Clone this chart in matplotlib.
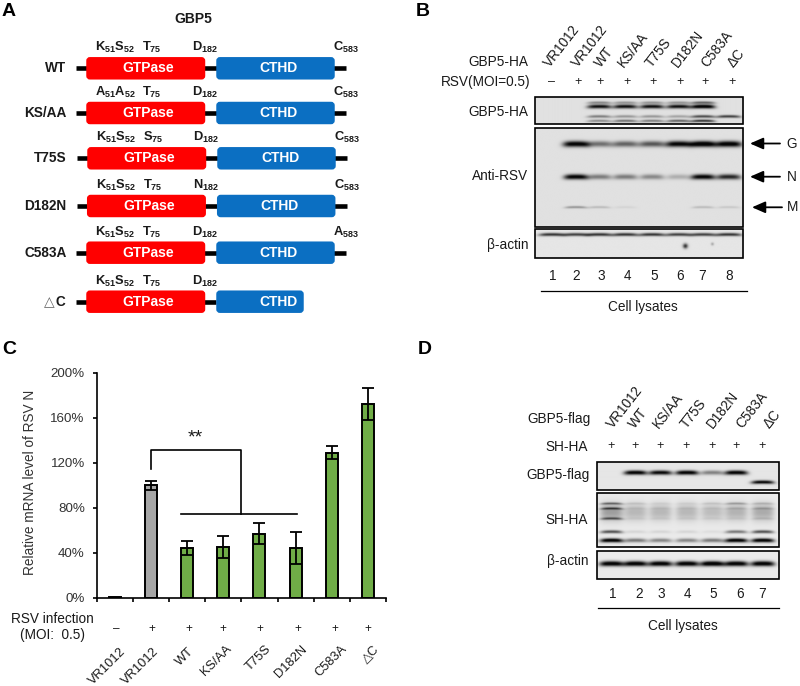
#!/usr/bin/env python
"""GBP5 mutants figure: domain maps, western blots and RSV N mRNA bars."""
import numpy as np
import matplotlib
matplotlib.use("Agg")
import matplotlib.pyplot as plt
from matplotlib.patches import FancyBboxPatch, Rectangle

plt.rcParams["font.family"] = ["Liberation Sans", "DejaVu Sans"]
plt.rcParams["mathtext.fontset"] = "custom"
plt.rcParams["mathtext.bf"] = "Liberation Sans:bold"
plt.rcParams["mathtext.rm"] = "Liberation Sans"

INK = "#1a1a1a"

# panel A
a_names = ["WT", "KS/AA", "T75S", "D182N", "C583A"]
a_rows = [68.3, 113, 158.3, 206, 252.7, 301.7]
a_shift = [0, 0, 1, 0.7, 0, 0]
a_site1 = [("K", "S"), ("A", "A"), ("K", "S"), ("K", "S"), ("K", "S"), ("K", "S")]
a_site2 = ["T", "T", "S", "T", "T", "T"]
a_site3 = ["D", "D", "D", "N", "D", "D"]
a_site4 = ["C", "C", "C", "C", "A", None]

# panel C
c_labels = ["VR1012", "VR1012", "WT", "KS/AA", "T75S", "D182N", "C583A", "△C"]
c_signs = ["–", "+", "+", "+", "+", "+", "+", "+"]
c_values = [0.5, 100, 44, 45, 57, 44, 129, 172]
c_errors = [0, 4, 6, 10, 9, 14, 6, 14]
c_colors = ["#a6a6a6", "#a6a6a6", "#70ad47", "#70ad47", "#70ad47", "#70ad47", "#70ad47", "#70ad47"]
c_ticks = [0, 40, 80, 120, 160, 200]
bracket_x = [1, 1, 3.5, 3.5]
bracket_y = [114, 131.3, 131.3, 74]
bar_span_x = [1.84, 5.04]
bar_span_y = [74, 74]

# panel B blots
b_lanes = [551.7, 575.7, 599, 625, 651.7, 678.3, 702.7, 728.3]
b_names = ["VR1012", "VR1012", "WT", "KS/AA", "T75S", "D182N", "C583A", "ΔC"]
b_signs = ["–", "+", "+", "+", "+", "+", "+", "+"]
b_ha_top = [0, 0, 0.85, 0.85, 0.85, 0.85, 1.0, 0]
b_ha_faint = [0, 0, 0.35, 0.3, 0.3, 0.3, 0.5, 0]
b_ha_low1 = [0, 0, 0.4, 0.3, 0.3, 0.25, 0.6, 0.65]
b_ha_low2 = [0, 0, 0.35, 0.45, 0.4, 0.5, 0.7, 0]
b_g = [0, 0.92, 0.45, 0.5, 0.55, 0.9, 1.0, 0.95]
b_n = [0, 0.92, 0.4, 0.4, 0.35, 0.2, 0.9, 0.75]
b_m = [0, 0.3, 0.15, 0.05, 0, 0, 0.15, 0.1]
b_actin = [0.7, 0.65, 0.7, 0.7, 0.7, 0.65, 0.65, 0.7]

# panel D blots
d_lanes = [611.7, 635.7, 660.7, 687.3, 712.7, 736.7, 763.3]
d_names = ["VR1012", "WT", "KS/AA", "T75S", "D182N", "C583A", "ΔC"]
d_flag = [0, 0.95, 0.9, 0.95, 0.4, 0.95, 0]
d_flag_low = [0, 0, 0, 0, 0, 0, 0.9]
d_sh_smear = [0.3, 0.2, 0.2, 0.2, 0.18, 0.22, 0.25]
d_sh_t1 = [0.45, 0.1, 0.05, 0.05, 0.1, 0.25, 0.15]
d_sh_t2 = [0.5, 0.05, 0.05, 0.05, 0.05, 0.1, 0.15]
d_sh_t3 = [0.5, 0.05, 0.05, 0.05, 0.05, 0.05, 0.1]
d_sh_b2 = [0.6, 0.08, 0.08, 0.08, 0.05, 0.45, 0.6]
d_sh_b3 = [1.0, 0.45, 0.4, 0.4, 0.45, 1.0, 1.0]
d_actin = [1.0, 1.0, 1.0, 1.0, 1.05, 1.0, 1.0]

fig = plt.figure(figsize=(8, 6.86), dpi=100)

# bar chart
ax = fig.add_axes([96.7 / 800, 1 - 597.7 / 686, (386 - 96.7) / 800, 225 / 686])
x = np.arange(len(c_values))
ax.bar(x, c_values, width=0.33, color=c_colors, edgecolor="black", linewidth=1.4)
ax.errorbar(x[1:], c_values[1:], yerr=c_errors[1:], fmt="none", ecolor="black",
            elinewidth=1.3, capsize=4.3, capthick=1.3)
ax.plot(bracket_x, bracket_y, color="black", lw=1.2)
ax.plot(bar_span_x, bar_span_y, color="black", lw=1.2)
ax.text(2.22, 134, "**", ha="center", va="bottom", fontsize=14, color=INK)
ax.set_xlim(-0.5, 7.5)
ax.set_ylim(0, 200)
ax.set_yticks(c_ticks)
ax.set_yticklabels([f"{v}%" for v in c_ticks], fontsize=9.6, color="#333333")
ax.set_xticks(np.arange(-0.5, 8))
ax.set_xticklabels([])
ax.tick_params(axis="y", length=2.6, width=1.2, pad=6)
ax.tick_params(axis="x", length=2.6, width=1.2, direction="out")
ax.spines[["top", "right"]].set_visible(False)
ax.spines[["left", "bottom"]].set_linewidth(1.2)
ax.set_ylabel("Relative mRNA level of RSV N", fontsize=9.8, color="#333333")
ax.yaxis.set_label_coords((37 - 96.7) / 289.3, (597.7 - 482.5) / 225)

# everything else is placed in pixel coordinates
ov = fig.add_axes([0, 0, 1, 1], zorder=5)
ov.patch.set_alpha(0)
ov.axis("off")


def label(x, y, s, size=9.8, **kw):
    kw.setdefault("ha", "center")
    kw.setdefault("va", "center")
    kw.setdefault("color", INK)
    ov.text(x, y, s, fontsize=size, **kw)


def blot(x0, x1, y0, y1, bg, rows, specks=()):
    xs, ys = np.meshgrid(np.linspace(x0, x1, int(x1 - x0) * 2), np.linspace(y0, y1, int(y1 - y0) * 2))
    img = np.zeros_like(xs)
    for lanes, y, dark, hw, hh in rows:
        for cx, d in zip(lanes, dark):
            img += d * np.exp(-(((xs - cx) / hw) ** 4) - ((ys - y - 0.4 * ((xs - cx) / hw) ** 2) / hh) ** 2)
    for sx, sy, d, r in specks:
        img += d * np.exp(-((xs - sx) ** 2 + (ys - sy) ** 2) / r ** 2)
    img = np.clip(bg - img, 0.02, 1)
    ov.imshow(img, cmap="gray", vmin=0, vmax=1, extent=(x0, x1, y1, y0), aspect="auto",
              interpolation="bilinear", zorder=1)
    ov.add_patch(Rectangle((x0, y0), x1 - x0, y1 - y0, fill=False, ec="black", lw=1.2, zorder=2))


# panel letters
for s, px, py in [("A", 9, 11), ("B", 423, 11), ("C", 9, 349), ("D", 425, 349)]:
    label(px, py, s, size=14, weight="bold", color="black")

# panel A
label(193, 19, "GBP5", size=10, weight="bold")
for i, y in enumerate(a_rows):
    dx = a_shift[i]
    end = 346 if i < 5 else 216
    ov.plot([76 + dx, end + dx], [y, y], color="black", lw=3.3, solid_capstyle="butt", zorder=1)
    blue_end = 335 if i < 5 else 304
    ov.add_patch(FancyBboxPatch((88 + dx, y - 9.5), 115.5, 19, boxstyle="round,pad=0,rounding_size=2",
                                mutation_aspect=1, fc="#ff0000", ec="#ff0000", lw=2.5, zorder=2))
    ov.add_patch(FancyBboxPatch((218 + dx, y - 9.5), blue_end - 220, 19, boxstyle="round,pad=0,rounding_size=2",
                                fc="#0b6fc2", ec="#0b6fc2", lw=2.5, zorder=2))
    label(148.5 + dx, y, "GTPase", size=10, weight="bold", color="white", zorder=3)
    label(279 + dx, y, "CTHD", size=10, weight="bold", color="white", zorder=3)
    ty = y - 20.5
    p, q = a_site1[i]
    label(95 + dx, ty, rf"$\mathbf{{{p}_{{51}}{q}_{{52}}}}$", size=9.3, ha="left")
    label(142 + dx, ty, rf"$\mathbf{{{a_site2[i]}_{{75}}}}$", size=9.3, ha="left")
    label(192 + dx, ty, rf"$\mathbf{{{a_site3[i]}_{{182}}}}$", size=9.3, ha="left")
    if a_site4[i]:
        label(333 + dx, ty, rf"$\mathbf{{{a_site4[i]}_{{583}}}}$", size=9.3, ha="left")
    if i < 5:
        label(66.5, y, a_names[i], size=9.8, weight="bold", ha="right")
label(55, 301.7, "△", size=10, color="#666666", ha="right")
label(65, 301.7, "C", size=9.8, weight="bold", ha="right")

# panel B
blot(535, 743.3, 97.3, 124.3, 0.88, [
    (b_lanes, 102.7, b_ha_faint, 12, 1.3),
    (b_lanes, 106.7, b_ha_top, 12, 2.0),
    (b_lanes, 116.8, b_ha_low1, 12, 1.4),
    (b_lanes, 121.3, b_ha_low2, 12, 1.3),
])
blot(535, 743.3, 127.7, 226.7, 0.88, [
    (b_lanes, 143.5, b_g, 13, 3.0),
    (b_lanes, 176.5, b_n, 12, 2.6),
    (b_lanes, 207, b_m, 11, 1.2),
])
blot(535, 743.3, 229.3, 257.7, 0.9, [(b_lanes, 234.5, b_actin, 13, 1.6)],
     specks=[(685, 246, 0.7, 2.5), (712, 244, 0.25, 1.5)])
for cx, s in zip([550.3, 578, 601, 623.7, 651.3, 677.7, 707, 733.7], b_names):
    label(cx, 68, s, rotation=52, ha="left", va="baseline", rotation_mode="anchor")
for cx, s in zip([551.7, 578, 600, 627, 653, 680, 705, 732], b_signs):
    label(cx, 82, s, size=9)
for cx, n in zip([553, 575.7, 601.7, 628, 654.3, 680, 702.3, 729], range(1, 9)):
    label(cx, 276, str(n))
label(528, 61.5, "GBP5-HA", ha="right")
label(530, 82, "RSV(MOI=0.5)", ha="right")
label(528, 112.5, "GBP5-HA", ha="right")
label(528, 176.5, "Anti-RSV", ha="right")
label(528, 245, "β-actin", ha="right")
for y, x0, x1, s, lx in [(143.5, 780, 750, "G", 791.5), (176.7, 780, 750, "N", 792), (207.3, 782, 752, "M", 793)]:
    ov.annotate("", xy=(x1, y), xytext=(x0, y),
                arrowprops=dict(arrowstyle="-|>,head_width=0.35,head_length=0.8", color="black", lw=1.3,
                                shrinkA=0, shrinkB=0))
    label(lx, y, s)
ov.plot([540.7, 746.7], [290.7, 290.7], color="black", lw=0.9)
label(642.7, 306.7, "Cell lysates")

# panel C text
label(52.7, 618.7, "RSV infection")
label(53, 635, "(MOI:  0.5)")
for cx, s in zip([116.7, 151.7, 189, 222.7, 260, 297.7, 335, 368.3], c_signs):
    label(cx, 629, s, size=8.5)
for cx, cy, s in zip([120, 153, 188, 226, 265, 301, 341, 373], [645, 645, 645, 643, 643, 643, 643, 643], c_labels):
    label(cx, cy, s, size=9.3, rotation=45, ha="right", va="top", rotation_mode="anchor")

# panel D
blot(597.3, 779.3, 462.3, 490, 0.9, [
    (d_lanes, 472.7, d_flag, 11.5, 2.2),
    (d_lanes, 482.3, d_flag_low, 11.5, 1.8),
])
blot(597.3, 779.3, 493.3, 546.7, 0.92, [
    (d_lanes, 512, d_sh_smear, 11.5, 8.5),
    (d_lanes, 503.5, d_sh_t1, 11, 1.1),
    (d_lanes, 508.5, d_sh_t2, 11, 1.1),
    (d_lanes, 518.5, d_sh_t3, 11, 1.2),
    (d_lanes, 531.7, d_sh_b2, 11, 1.6),
    (d_lanes, 540.3, d_sh_b3, 11.5, 2.0),
])
blot(597.3, 779.3, 550.7, 578.7, 0.92, [(d_lanes, 563.3, d_actin, 12, 2.6)])
for cx, s in zip([613, 635.3, 658.7, 686.3, 713, 742, 769.7], d_names):
    label(cx, 429, s, rotation=52, ha="left", va="baseline", rotation_mode="anchor")
for cx in d_lanes:
    label(cx - 1, 446.5, "+", size=9)
for cx, n in zip([612.7, 638.7, 661, 687.3, 713.7, 739.7, 762], range(1, 8)):
    label(cx, 594, str(n))
label(590.5, 419.5, "GBP5-flag", ha="right")
label(588, 447, "SH-HA", ha="right")
label(589.5, 474.5, "GBP5-flag", ha="right")
label(588, 519.5, "SH-HA", ha="right")
label(588, 561.5, "β-actin", ha="right")
ov.plot([598, 779], [608, 608], color="black", lw=0.9)
label(682.5, 626, "Cell lysates")

ov.set_xlim(0, 800)
ov.set_ylim(686, 0)

fig.savefig("out.png", dpi=100)
